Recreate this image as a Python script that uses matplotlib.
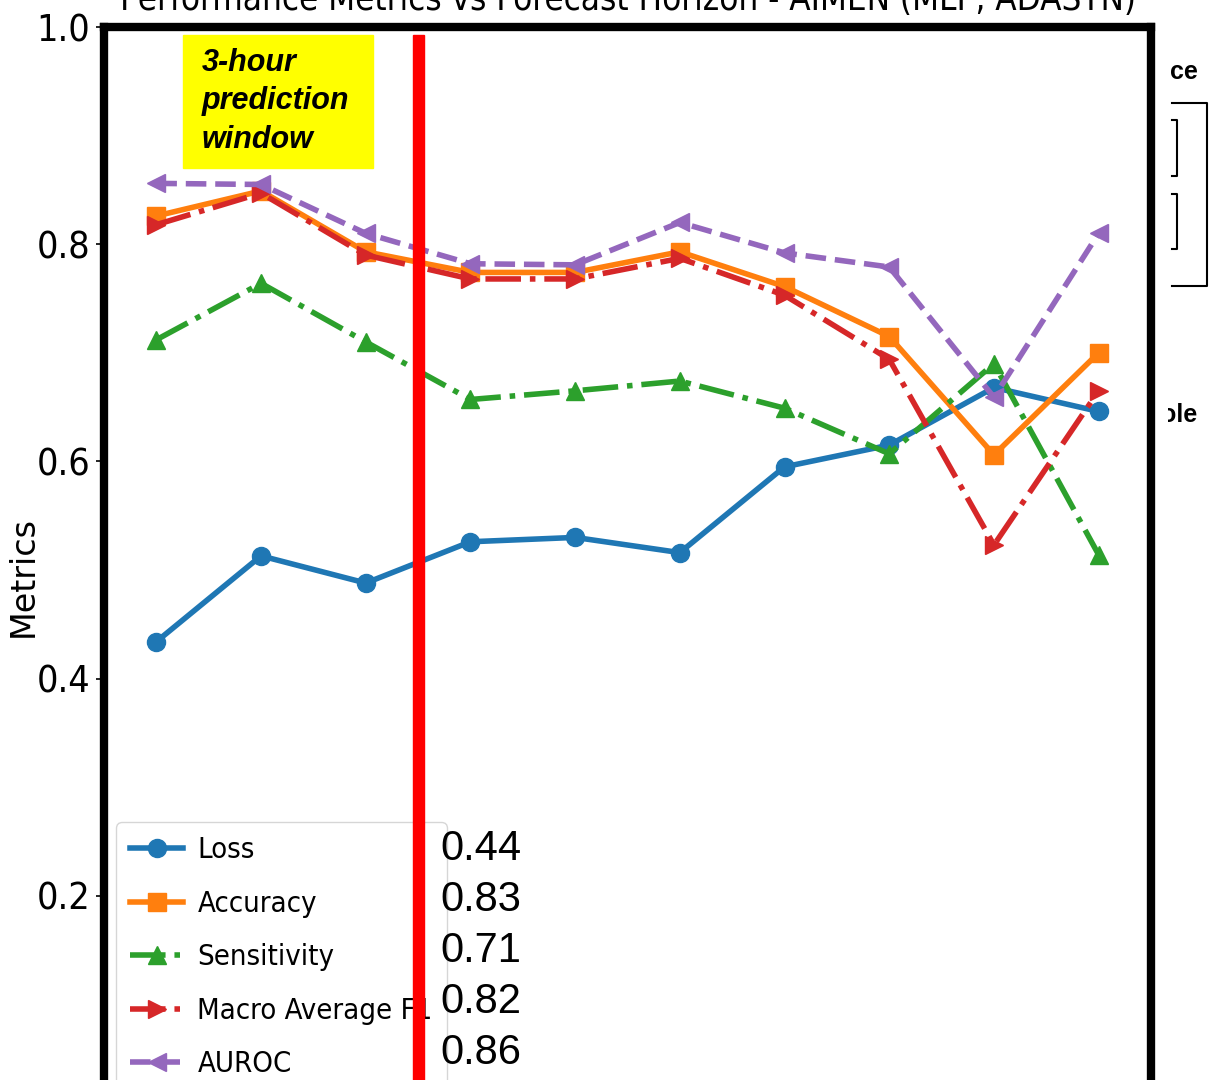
import matplotlib
matplotlib.use("Agg")
import matplotlib.pyplot as plt
from matplotlib.patches import Rectangle
from matplotlib.lines import Line2D
from matplotlib.transforms import Bbox, TransformedBbox

# forecast horizon (hours) and metric values
horizon = [1, 2, 3, 4, 5, 6, 7, 8, 9, 10]
loss = [0.434, 0.513, 0.488, 0.526, 0.530, 0.516, 0.595, 0.615, 0.668, 0.646]
accuracy = [0.826, 0.849, 0.793, 0.774, 0.774, 0.793, 0.761, 0.715, 0.606, 0.700]
sensitivity = [0.712, 0.764, 0.710, 0.657, 0.665, 0.674, 0.649, 0.607, 0.690, 0.514]
macro_f1 = [0.818, 0.847, 0.790, 0.768, 0.768, 0.787, 0.753, 0.694, 0.523, 0.665]
auroc = [0.856, 0.855, 0.810, 0.782, 0.781, 0.820, 0.792, 0.779, 0.659, 0.810]

first_values = ["0.44", "0.83", "0.71", "0.82", "0.86"]
note_lines = ["3-hour", "prediction", "window"]

W, H = 1209, 1080
COND = {"family": "DejaVu Sans", "stretch": "condensed"}


def fx(x):
    return x / W


def fy(y):
    return 1 - y / H


fig = plt.figure(figsize=(W / 100, H / 100), dpi=100)
ax = fig.add_axes([fx(104), fy(1113), fx(1151 - 104), (1113 - 27) / H])

lw, ms = 4, 13
ax.plot(horizon, loss, color="#1f77b4", marker="o", ls="-", lw=lw, ms=ms, label="Loss")
ax.plot(horizon, accuracy, color="#ff7f0e", marker="s", ls="-", lw=lw, ms=ms, label="Accuracy")
ax.plot(horizon, sensitivity, color="#2ca02c", marker="^", ls="-.", lw=lw, ms=ms, label="Sensitivity")
ax.plot(horizon, macro_f1, color="#d62728", marker=">", ls="-.", lw=lw, ms=ms, label="Macro Average F1")
ax.plot(horizon, auroc, color="#9467bd", marker="<", ls="--", lw=lw, ms=ms, label="AUROC")

ax.set_xlim(0.5, 10.5)
ax.set_ylim(0, 1)
ax.set_xticks([])
ax.set_yticks([0.0, 0.2, 0.4, 0.6, 0.8, 1.0])
ax.set_yticklabels(["0.0", "0.2", "0.4", "0.6", "0.8", "1.0"], fontsize=27, **COND)
ax.tick_params(axis="y", length=6, width=1.2, pad=4)
for s in ax.spines.values():
    s.set_linewidth(6)
ax.set_ylabel("Metrics", fontsize=24)
ax.yaxis.set_label_coords((40 - 104) / 1047, (1113 - 577) / 1086)
ax.set_title("Performance Metrics vs Forecast Horizon - AIMEN (MLP, ADASYN)",
             fontsize=25, pad=12, **COND)

ax.legend(loc="upper left", bbox_to_anchor=(fx(116), fy(822)), bbox_transform=fig.transFigure,
          borderaxespad=0, prop={"size": 21, **COND}, handlelength=1.8,
          borderpad=0.49, labelspacing=0.875, handletextpad=0.5)

# yellow note box
fig.add_artist(Rectangle((fx(183), fy(168)), fx(373 - 183), (168 - 35) / H,
                         transform=fig.transFigure, color="#ffff00", zorder=8))
for i, word in enumerate(note_lines):
    fig.text(fx(202), fy(63 + 38.5 * i), word, ha="left", va="center",
             fontsize=22, fontweight="bold", style="italic", family="Liberation Sans", zorder=9)

# red marker line
fig.add_artist(Rectangle((fx(413), 0), fx(11), fy(35),
                         transform=fig.transFigure, color="#ff0000", zorder=10))

# first-horizon values
for i, v in enumerate(first_values):
    fig.text(fx(440), fy(849 + 51 * i), v, ha="left", va="center",
             fontsize=30, family="Liberation Sans", zorder=9)

# fragments on the right edge
clip = TransformedBbox(Bbox([[fx(1168), 0], [1, 1]]), fig.transFigure)
t1 = fig.text(fx(1170), fy(72), "ce", fontsize=18, fontweight="bold", family="Liberation Sans",
              ha="left", va="center")
t2 = fig.text(fx(1161), fy(415), "ole", fontsize=18, fontweight="bold", family="Liberation Sans",
              ha="left", va="center")
for t in (t1, t2):
    t.set_clip_box(clip)
    t.set_clip_on(True)
bk = dict(color="black", lw=1.5, transform=fig.transFigure)
fig.add_artist(Line2D([fx(1172), fx(1207), fx(1207), fx(1172)],
                      [fy(103), fy(103), fy(286), fy(286)], **bk))
for top, bot in [(120, 176), (194, 249)]:
    fig.add_artist(Line2D([fx(1172), fx(1177), fx(1177), fx(1172)],
                          [fy(top), fy(top), fy(bot), fy(bot)], **bk))

fig.savefig("out.png", dpi=100)
